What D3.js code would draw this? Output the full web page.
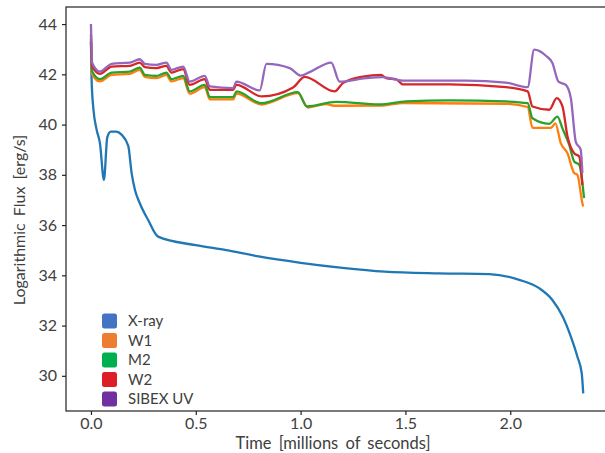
<!DOCTYPE html>
<html>
<head>
<meta charset="utf-8">
<script src="https://cdn.jsdelivr.net/npm/d3@7"></script>
<style>
  body { margin: 0; background: #fff; }
  text { font-family: Lato, "Open Sans", sans-serif; fill: #404040; }
</style>
</head>
<body>
<svg></svg>
<script>
const width = 605, height = 453

const seriesNames = ["X-ray", "W1", "M2", "W2", "SIBEX UV"]
const lineColors = ["#1f77b4", "#ff7f0e", "#2ca02c", "#d62728", "#9467bd"]
const legendColors = ["#4472c4", "#ed7d31", "#00b050", "#dc1f26", "#7030a0"]
const yTicks = [30, 32, 34, 36, 38, 40, 42, 44]
const xTicks = [0, 0.5, 1, 1.5, 2]

// [time (millions of s), log flux]
const xray = [[0, 43.3], [0.003, 41.8], [0.012, 40.6], [0.027, 39.8], [0.043, 39.25], [0.062, 37.8],
  [0.078, 39.5], [0.095, 39.72], [0.12, 39.72], [0.146, 39.6], [0.178, 39.15], [0.194, 38.07],
  [0.21, 37.4], [0.233, 36.87], [0.273, 36.2], [0.32, 35.54], [0.5, 35.2], [0.646, 35.0],
  [0.8, 34.75], [1.0, 34.5], [1.2, 34.3], [1.4, 34.15], [1.66, 34.08], [1.9, 34.05],
  [2.043, 33.82], [2.138, 33.49], [2.2, 33.03], [2.25, 32.36], [2.289, 31.56], [2.32, 30.77],
  [2.341, 30.1], [2.348, 29.3]]

const w1 = [[0, 43.3], [0.006, 42.0], [0.043, 41.72], [0.099, 41.98], [0.186, 42.02], [0.233, 42.18],
  [0.257, 41.9], [0.313, 41.85], [0.36, 41.98], [0.384, 41.72], [0.44, 41.85], [0.471, 41.23],
  [0.543, 41.49], [0.567, 41.0], [0.678, 41.0], [0.694, 41.23], [0.813, 40.8], [0.987, 41.25],
  [1.035, 40.68], [1.12, 40.82], [1.16, 40.75], [1.392, 40.76], [1.487, 40.86], [1.979, 40.83],
  [2.083, 40.7], [2.106, 39.87], [2.194, 39.87], [2.215, 40.05], [2.241, 39.26], [2.273, 38.86],
  [2.305, 38.07], [2.32, 38.0], [2.344, 36.87], [2.348, 36.74]]

const m2 = [[0, 43.4], [0.006, 42.11], [0.043, 41.81], [0.099, 42.07], [0.186, 42.11], [0.233, 42.27],
  [0.257, 41.98], [0.313, 41.94], [0.36, 42.07], [0.384, 41.81], [0.44, 41.94], [0.471, 41.32],
  [0.543, 41.58], [0.567, 41.09], [0.678, 41.09], [0.694, 41.32], [0.813, 40.85], [0.987, 41.29],
  [1.03, 40.72], [1.17, 40.9], [1.376, 40.8], [1.503, 40.92], [1.71, 40.96], [1.979, 40.92],
  [2.083, 40.85], [2.106, 40.25], [2.186, 40.03], [2.225, 40.32], [2.249, 39.85], [2.281, 39.2],
  [2.305, 38.53], [2.329, 38.4], [2.352, 37.07]]

const w2 = [[0, 43.6], [0.006, 42.31], [0.043, 42.02], [0.099, 42.31], [0.186, 42.34], [0.233, 42.47],
  [0.257, 42.29], [0.313, 42.25], [0.36, 42.34], [0.384, 42.07], [0.44, 42.21], [0.471, 41.58],
  [0.543, 41.81], [0.567, 41.38], [0.678, 41.38], [0.694, 41.58], [0.815, 41.12], [0.964, 41.48],
  [1.02, 41.9], [1.162, 41.32], [1.202, 41.65], [1.297, 41.91], [1.384, 41.98], [1.408, 41.85],
  [1.456, 41.8], [1.487, 41.6], [1.71, 41.6], [1.979, 41.49], [2.083, 41.32], [2.106, 40.72],
  [2.186, 40.59], [2.222, 41.05], [2.249, 40.72], [2.273, 39.53], [2.305, 38.86], [2.329, 38.73],
  [2.344, 37.6]]

const sibex = [[0, 44.0], [0.006, 42.45], [0.043, 42.11], [0.099, 42.42], [0.186, 42.47], [0.233, 42.6],
  [0.257, 42.42], [0.313, 42.38], [0.36, 42.47], [0.384, 42.18], [0.44, 42.31], [0.471, 41.71],
  [0.543, 41.94], [0.567, 41.52], [0.678, 41.45], [0.694, 41.71], [0.805, 41.36], [0.837, 42.42],
  [0.948, 42.25], [1.0, 41.95], [1.043, 42.09], [1.146, 42.47], [1.186, 41.71], [1.313, 41.85],
  [1.392, 41.89], [1.487, 41.75], [1.789, 41.75], [1.979, 41.67], [2.083, 41.49], [2.114, 42.98],
  [2.17, 42.74], [2.201, 42.45], [2.23, 41.71], [2.265, 41.58], [2.289, 41.05], [2.313, 39.3],
  [2.336, 39.0], [2.344, 38.07]]

const series = [xray, w1, m2, w2, sibex]

const margin = {top: 7, left: 66, bottom: 42, right: -4}

const x = d3.scaleLinear().domain([-0.119, 2.471]).range([margin.left, width - margin.right])
const y = d3.scaleLinear().domain([28.6, 44.68]).range([height - margin.bottom, margin.top])

const svg = d3.select("svg")
  .attr("width", width)
  .attr("height", height)

const line = d3.line()
  .x(d => x(d[0]))
  .y(d => y(d[1]))
  .curve(d3.curveMonotoneX)

svg.append("g")
  .selectAll("path")
  .data(series)
  .join("path")
  .attr("fill", "none")
  .attr("stroke", (d, i) => lineColors[i])
  .attr("stroke-width", 2.3)
  .attr("stroke-linejoin", "round")
  .attr("d", line)

// frame
svg.append("rect")
  .attr("x", x.range()[0])
  .attr("y", y.range()[1])
  .attr("width", x.range()[1] - x.range()[0])
  .attr("height", y.range()[0] - y.range()[1])
  .attr("fill", "none")
  .attr("stroke", "#222")
  .attr("stroke-width", 1.2)

const xAxis = svg.append("g")
  .attr("transform", `translate(0,${y.range()[0]})`)
  .call(d3.axisBottom(x).tickValues(xTicks).tickFormat(d3.format(".1f")).tickSize(4).tickPadding(3))
const yAxis = svg.append("g")
  .attr("transform", `translate(${x.range()[0]},0)`)
  .call(d3.axisLeft(y).tickValues(yTicks).tickSize(4).tickPadding(5))

for (const ax of [xAxis, yAxis]) {
  ax.select(".domain").remove()
  ax.selectAll(".tick line").attr("stroke", "#222").attr("stroke-width", 1.2)
  ax.selectAll(".tick text").style("font-size", "16px").attr("fill", "#404040")
}

svg.append("text")
  .attr("x", 333)
  .attr("y", 449)
  .attr("text-anchor", "middle")
  .style("font-size", "16.5px")
  .style("word-spacing", "3px")
  .attr("fill", "#262626")
  .text("Time [millions of seconds]")

svg.append("text")
  .attr("transform", "translate(25,220) rotate(-90)")
  .attr("text-anchor", "middle")
  .style("font-size", "16px")
  .style("word-spacing", "3px")
  .attr("fill", "#262626")
  .text("Logarithmic Flux [erg/s]")

const legend = svg.append("g")
  .selectAll("g")
  .data(seriesNames)
  .join("g")
  .attr("transform", (d, i) => `translate(102,${321 + i * 19.5})`)

legend.append("rect")
  .attr("x", 0)
  .attr("y", -7.5)
  .attr("width", 15)
  .attr("height", 15)
  .attr("rx", 2.5)
  .attr("fill", (d, i) => legendColors[i])

legend.append("text")
  .attr("x", 26)
  .attr("y", 0)
  .attr("dy", "0.35em")
  .style("font-size", "15px")
  .attr("fill", "#262626")
  .text(d => d)
</script>
</body>
</html>
